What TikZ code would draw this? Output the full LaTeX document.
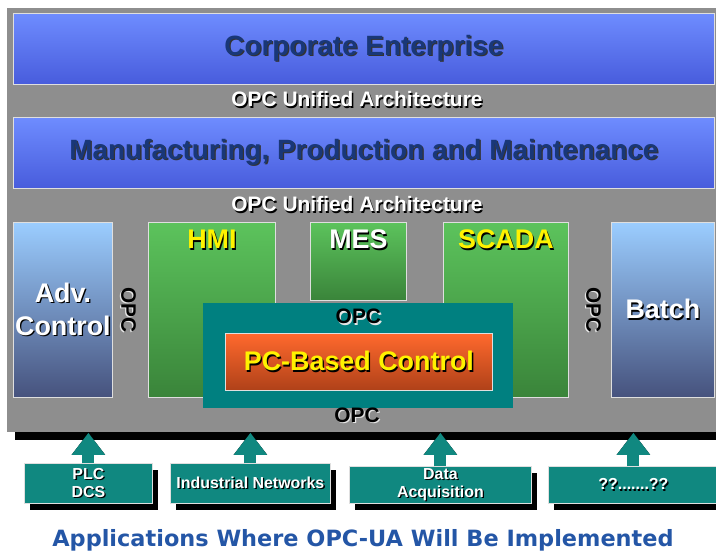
\documentclass[tikz,border=0pt]{standalone}
\usepackage{fontspec}
\setmainfont{Liberation Sans}
\newfontfamily\titlefont{DejaVu Sans}
\usetikzlibrary{positioning,arrows.meta,shadows}

\definecolor{bggray}{RGB}{142,142,142}
\definecolor{bartop}{RGB}{110,140,255}
\definecolor{barbot}{RGB}{72,92,220}
\definecolor{navytext}{RGB}{25,55,120}
\definecolor{sidetop}{RGB}{155,205,255}
\definecolor{sidebot}{RGB}{70,82,125}
\definecolor{greentop}{RGB}{92,195,92}
\definecolor{greenbot}{RGB}{58,132,58}
\definecolor{pcteal}{RGB}{0,128,128}
\definecolor{orangetop}{RGB}{255,105,45}
\definecolor{orangebot}{RGB}{175,65,25}
\definecolor{appteal}{RGB}{16,136,128}
\definecolor{titleblue}{RGB}{36,86,166}

% text with a small drop shadow
\newcommand{\shadowed}[2]{\makebox[0pt][l]{\hspace{1.3bp}\raisebox{-1.3bp}{\textcolor{#1}{#2}}}#2}

\begin{document}
\begin{tikzpicture}[x=1bp, y=-1bp, font=\bfseries,
  panel/.style={draw=white!75!gray, line width=0.8bp, inner sep=0pt, anchor=north west},
  bigtext/.style={font=\fontsize{27}{33}\selectfont\bfseries},
  opctext/.style={font=\fontsize{21}{24}\selectfont\bfseries, inner sep=0pt},
  bluebar/.style={panel, top color=bartop, bottom color=barbot, text=navytext,
                  font=\fontsize{28}{30}\selectfont\bfseries},
  sidebox/.style={panel, top color=sidetop, bottom color=sidebot, text=white,
                  bigtext, align=center},
  greenbox/.style={panel, top color=greentop, bottom color=greenbot},
  appbox/.style={panel, fill=appteal, text=white, align=center,
                 font=\fontsize{16}{18}\selectfont\bfseries,
                 drop shadow={shadow xshift=6bp, shadow yshift=-7bp, fill=black, opacity=1}},
  uparrow/.style={line width=12bp, -{Triangle[width=32bp,length=22bp]}, draw=appteal},
  upshadow/.style={line width=12bp, -{Triangle[width=32bp,length=22bp]}, draw=black}]

\useasboundingbox (0,0) rectangle (716,554);

% Gray backplane with its black shadow
\node[panel, draw=none, fill=bggray, minimum width=709bp, minimum height=424bp,
      drop shadow={shadow xshift=8bp, shadow yshift=-8bp, fill=black, opacity=1}]
      (bg) at (7,8) {};

% The two enterprise levels
\node[bluebar, minimum width=701bp, minimum height=71bp] (corp) at (13,13)
     {\shadowed{black!80}{Corporate Enterprise}};
\node[opctext, text=white] (ua1) at (357,100) {\shadowed{black}{OPC Unified Architecture}};
\node[bluebar, minimum width=701bp, minimum height=71bp] (mpm) at (13,117)
     {\shadowed{black!80}{Manufacturing, Production and Maintenance}};
\node[opctext, text=white] (ua2) at (357,205) {\shadowed{black}{OPC Unified Architecture}};

% Side applications
\node[sidebox, minimum width=99bp, minimum height=175bp] (adv) at (13,222)
     {\shadowed{black}{Adv.}\\\shadowed{black}{Control}};
\node[sidebox, minimum width=103bp, minimum height=175bp] (batch) at (611,222)
     {\shadowed{black}{Batch}};
\node[opctext, rotate=-90] (opcl) at (128,310) {\shadowed{white!80!gray}{OPC}};
\node[opctext, rotate=-90] (opcr) at (593,310) {\shadowed{white!80!gray}{OPC}};

% Green applications (partly hidden by the PC box)
\node[greenbox, minimum width=127bp, minimum height=175bp] (hmi) at (148,222) {};
\node[greenbox, minimum width=96bp,  minimum height=78bp]  (mes) at (310,222) {};
\node[greenbox, minimum width=125bp, minimum height=175bp] (scada) at (443,222) {};
\node[bigtext, text=yellow, below=8bp of hmi.north, inner sep=0pt] (hmit)
     {\shadowed{black}{HMI}};
\node[bigtext, text=white, below=8bp of mes.north, inner sep=0pt] (mest)
     {\shadowed{black}{MES}};
\node[bigtext, text=yellow, below=8bp of scada.north, inner sep=0pt] (scadat)
     {\shadowed{black}{SCADA}};

% PC box
\node[panel, draw=none, fill=pcteal, minimum width=310bp, minimum height=105bp]
     (pc) at (203,303) {};
\node[opctext, below=6bp of pc.north] (opcpc) {\shadowed{white!80!gray}{OPC}};
\node[panel, top color=orangetop, bottom color=orangebot, text=yellow, bigtext,
      minimum width=267bp, minimum height=57bp] (pcc) at (225,333)
     {\shadowed{black}{PC-Based Control}};
\node[opctext] (opcb) at (357,416) {\shadowed{white!80!gray}{OPC}};

% Sources below the backplane
\node[appbox, minimum width=128bp, minimum height=40bp] (plc) at (24,463)
     {\shadowed{black}{PLC}\\\shadowed{black}{DCS}};
\node[appbox, minimum width=160bp, minimum height=40bp] (net) at (170,463)
     {\shadowed{black}{Industrial Networks}};
\node[appbox, minimum width=182bp, minimum height=37bp] (daq) at (349,466)
     {\shadowed{black}{Data}\\\shadowed{black}{Acquisition}};
\node[appbox, minimum width=170bp, minimum height=37bp] (other) at (548,466)
     {\shadowed{black}{??.......??}};

% Arrows up into the backplane
\foreach \src in {plc,net,daq,other}{
  \draw[upshadow, shift={(5,4)}] (\src.north) -- (\src.north |- bg.south);
  \draw[uparrow] (\src.north) -- (\src.north |- bg.south);
}

% Caption
\node[font=\titlefont\fontsize{22.5}{26}\selectfont\bfseries, text=titleblue]
     (title) at (363,540) {Applications Where OPC-UA Will Be Implemented};
\end{tikzpicture}
\end{document}
